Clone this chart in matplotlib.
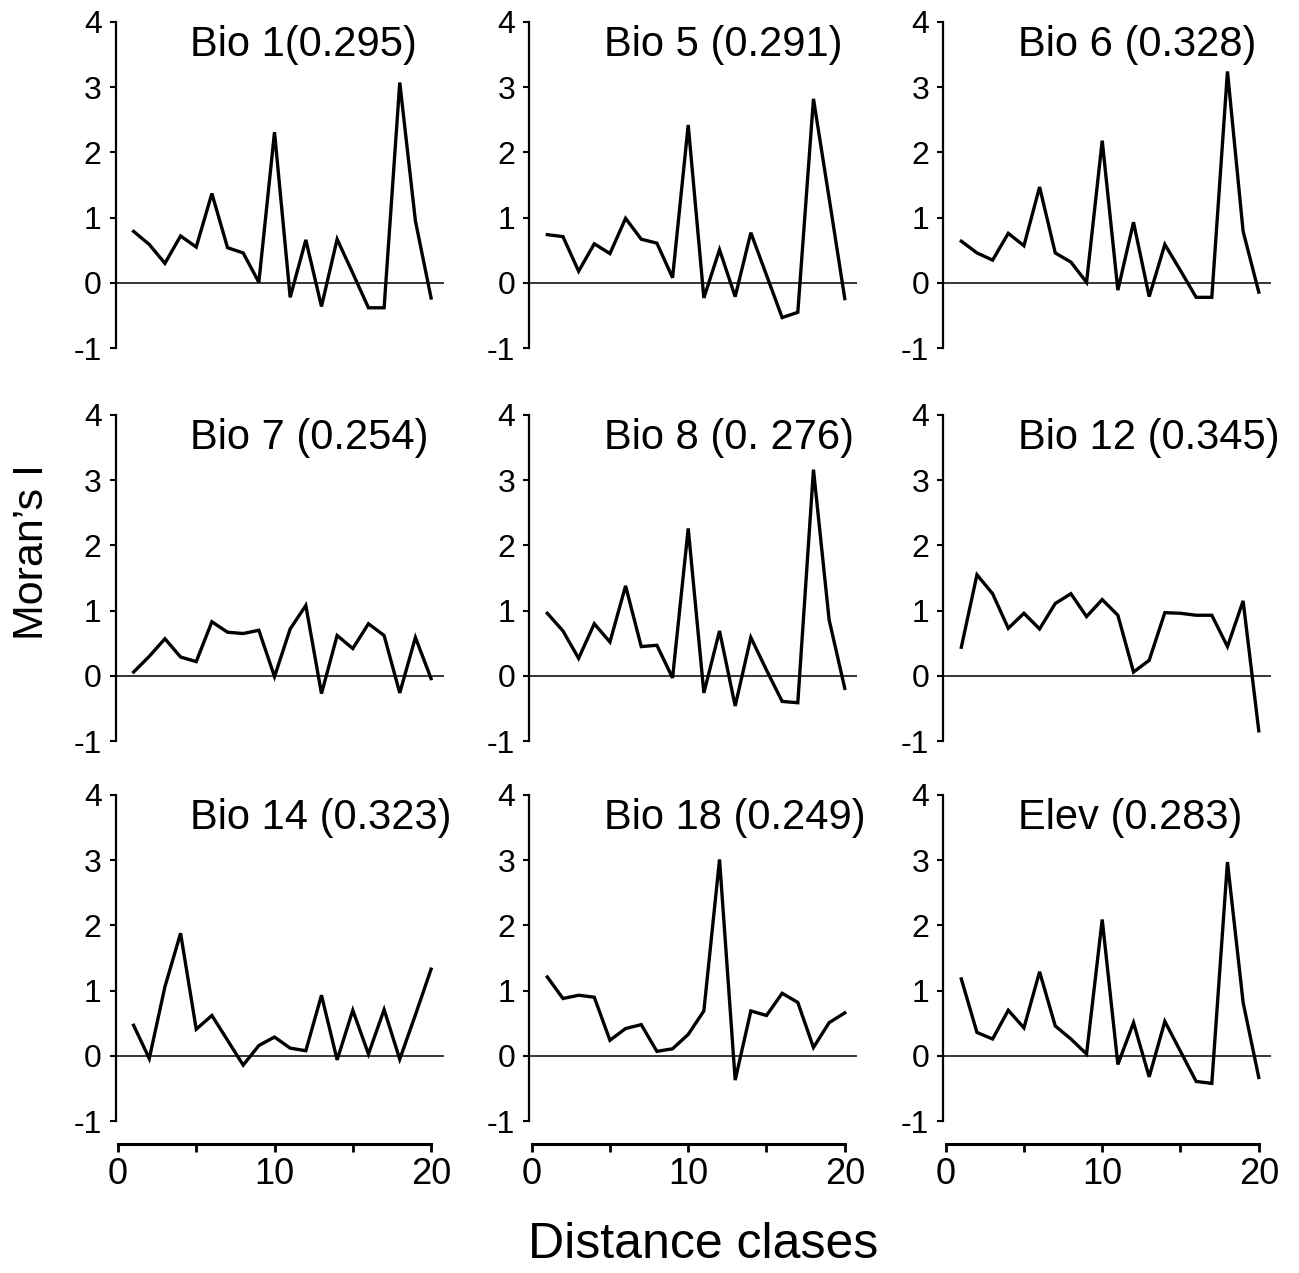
import matplotlib
matplotlib.use("Agg")
import matplotlib.pyplot as plt
import numpy as np

plt.rcParams['font.family'] = ['Liberation Sans', 'DejaVu Sans']

distance_classes = list(range(1, 21))

titles = ["Bio 1(0.295)", "Bio 5 (0.291)", "Bio 6 (0.328)",
          "Bio 7 (0.254)", "Bio 8 (0. 276)", "Bio 12 (0.345)",
          "Bio 14 (0.323)", "Bio 18 (0.249)", "Elev (0.283)"]

bio1 = [0.79, 0.59, 0.30, 0.72, 0.55, 1.37, 0.54, 0.46, 0.01, 2.31,
        -0.22, 0.66, -0.36, 0.67, 0.15, -0.38, -0.38, 3.07, 0.95, -0.23]
bio5 = [0.74, 0.71, 0.18, 0.60, 0.45, 0.99, 0.67, 0.61, 0.08, 2.42,
        -0.23, 0.51, -0.21, 0.77, 0.12, -0.53, -0.45, 2.82, 1.30, -0.24]
bio6 = [0.64, 0.46, 0.35, 0.76, 0.57, 1.47, 0.46, 0.32, 0.01, 2.18,
        -0.11, 0.93, -0.21, 0.59, 0.19, -0.22, -0.22, 3.24, 0.79, -0.14]
bio7 = [0.06, 0.30, 0.57, 0.29, 0.22, 0.83, 0.67, 0.65, 0.70, -0.01,
        0.72, 1.08, -0.27, 0.62, 0.42, 0.80, 0.62, -0.26, 0.59, -0.04]
bio8 = [0.96, 0.69, 0.27, 0.80, 0.52, 1.38, 0.45, 0.47, -0.03, 2.26,
        -0.26, 0.69, -0.46, 0.59, 0.09, -0.39, -0.41, 3.16, 0.86, -0.19]
bio12 = [0.44, 1.55, 1.26, 0.73, 0.96, 0.72, 1.11, 1.26, 0.91, 1.17,
         0.93, 0.06, 0.24, 0.97, 0.96, 0.93, 0.93, 0.45, 1.15, -0.84]
bio14 = [0.47, -0.04, 1.06, 1.88, 0.41, 0.62, 0.24, -0.14, 0.16, 0.29,
         0.12, 0.08, 0.93, -0.06, 0.70, 0.03, 0.71, -0.05, 0.63, 1.33]
bio18 = [1.21, 0.88, 0.93, 0.90, 0.24, 0.42, 0.48, 0.07, 0.11, 0.33,
         0.69, 3.01, -0.37, 0.69, 0.62, 0.96, 0.82, 0.13, 0.51, 0.66]
elev = [1.18, 0.36, 0.26, 0.70, 0.43, 1.29, 0.46, 0.26, 0.03, 2.09,
        -0.13, 0.51, -0.32, 0.53, 0.07, -0.39, -0.42, 2.97, 0.82, -0.33]

series = [bio1, bio5, bio6, bio7, bio8, bio12, bio14, bio18, elev]

y_ticks = [-1, 0, 1, 2, 3, 4]
x_ticks = [0, 5, 10, 15, 20]
x_ticklabels = ["0", "", "10", "", "20"]

W, H = 1299, 1273
fig = plt.figure(figsize=(W / 100, H / 100), dpi=100)

col_left = [115.6, 529.3, 943.3]
row_top = [5.5, 398.5, 778.5]
ax_w, ax_h = 328.0, 365.6

for i, (title, vals) in enumerate(zip(titles, series)):
    r, c = divmod(i, 3)
    left = col_left[c] / W
    bottom = 1 - (row_top[r] + ax_h) / H
    ax = fig.add_axes([left, bottom, ax_w / W, ax_h / H])
    ax.plot(distance_classes, vals, color='black', lw=2.4, solid_joinstyle='miter')
    ax.axhline(0, color='black', lw=1.1)
    ax.set_xlim(-0.15, 20.8)
    ax.set_ylim(-1.35, 4.25)
    for s in ['top', 'right']:
        ax.spines[s].set_visible(False)
    ax.spines['left'].set_bounds(-1, 4)
    ax.spines['left'].set_linewidth(1.6)
    ax.set_yticks(y_ticks)
    ax.set_yticklabels([str(t) for t in y_ticks])
    ax.tick_params(axis='y', direction='out', length=4, width=1.5,
                   labelsize=23, pad=6)
    if r == 2:
        ax.spines['bottom'].set_bounds(0, 20)
        ax.spines['bottom'].set_linewidth(2.2)
        ax.set_xticks(x_ticks)
        ax.set_xticklabels(x_ticklabels)
        ax.tick_params(axis='x', direction='out', length=6, width=2,
                       labelsize=26, pad=3)
    else:
        ax.spines['bottom'].set_visible(False)
        ax.set_xticks([])
    ax.text(4.6, 3.47, title, fontsize=30, ha='left', va='baseline')
    ax.patch.set_visible(False)

fig.text(32 / W, 1 - 552 / H, "Moran\u2019s I", rotation=90, fontsize=31,
         ha='center', va='center')
fig.text(703 / W, 1 - 1245 / H, "Distance clases", fontsize=36,
         ha='center', va='center')

fig.savefig("out.png", dpi=100)
